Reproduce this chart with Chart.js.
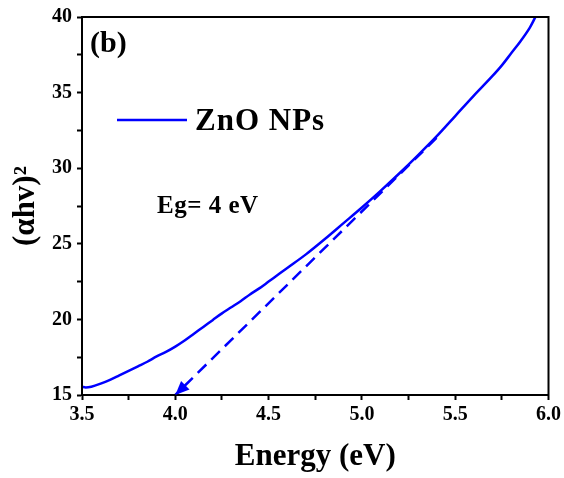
<!DOCTYPE html>
<html>
<head>
<meta charset="utf-8">
<script src="https://cdn.jsdelivr.net/npm/chart.js@4/dist/chart.umd.min.js"></script>
<style>
  html, body { margin: 0; padding: 0; background: #fff; }
  #wrap { width: 564px; height: 478px; }
</style>
</head>
<body>
<div id="wrap"><canvas id="tauc-canvas"></canvas></div>
<script>
// photon energy (eV) and (alpha h nu)^2
const energy = [3.50, 3.52, 3.55, 3.60, 3.65, 3.70, 3.75, 3.80, 3.85, 3.90, 3.95, 4.00,
  4.05, 4.10, 4.15, 4.20, 4.25, 4.30, 4.35, 4.40, 4.45, 4.50, 4.55, 4.60, 4.70, 4.80, 4.90,
  5.00, 5.10, 5.20, 5.30, 5.40, 5.50, 5.60, 5.70, 5.75, 5.80, 5.85, 5.90, 5.93]
const alphaHv2 = [15.55, 15.5, 15.55, 15.75, 16.0, 16.3, 16.6, 16.9, 17.2, 17.55, 17.85, 18.2,
  18.6, 19.05, 19.5, 19.95, 20.4, 20.8, 21.2, 21.65, 22.05, 22.5, 22.95, 23.4, 24.3, 25.3, 26.35,
  27.4, 28.5, 29.65, 30.85, 32.1, 33.45, 34.8, 36.1, 36.8, 37.6, 38.4, 39.3, 40.0]

// linear extrapolation to the energy axis
const tangentX = [5.40, 4.0]
const tangentY = [32.0, 15]

const xTicks = [3.5, 4.0, 4.5, 5.0, 5.5, 6.0]
const yTicks = [15, 20, 25, 30, 35, 40]

const FONT = "'Liberation Serif', 'Times New Roman', serif"
const BLUE = "#0000ff"

const isMajor = (v, list) => list.some((t) => Math.abs(t - v) < 1e-6)

const framePlugin = {
  id: "frame",
  afterDatasetsDraw(chart) {
    const { ctx, chartArea: a } = chart
    const xs = chart.scales.x
    const ys = chart.scales.y
    ctx.save()
    // box
    ctx.strokeStyle = "#000"
    ctx.lineWidth = 2
    ctx.strokeRect(a.left, a.top, a.right - a.left, a.bottom - a.top)

    // arrow head at the end of the tangent
    const n = tangentX.length
    const tipX = xs.getPixelForValue(tangentX[n - 1])
    const tipY = ys.getPixelForValue(tangentY[n - 1])
    const fromX = xs.getPixelForValue(tangentX[n - 2])
    const fromY = ys.getPixelForValue(tangentY[n - 2])
    const ang = Math.atan2(tipY - fromY, tipX - fromX)
    const len = 14, half = 6
    ctx.fillStyle = BLUE
    ctx.beginPath()
    ctx.moveTo(tipX, tipY)
    ctx.lineTo(tipX - len * Math.cos(ang) + half * Math.sin(ang), tipY - len * Math.sin(ang) - half * Math.cos(ang))
    ctx.lineTo(tipX - len * Math.cos(ang) - half * Math.sin(ang), tipY - len * Math.sin(ang) + half * Math.cos(ang))
    ctx.closePath()
    ctx.fill()

    // labels and legend
    ctx.fillStyle = "#000"
    ctx.textBaseline = "middle"
    ctx.textAlign = "left"
    ctx.letterSpacing = "0px"
    ctx.font = "bold 30px " + FONT
    ctx.fillText("(b)", a.left + 8, a.top + 27)

    ctx.strokeStyle = BLUE
    ctx.lineWidth = 2.5
    ctx.beginPath()
    ctx.moveTo(a.left + 35, a.top + 103)
    ctx.lineTo(a.left + 105, a.top + 103)
    ctx.stroke()
    ctx.letterSpacing = "1px"
    ctx.font = "bold 31px " + FONT
    ctx.fillText("ZnO NPs", a.left + 113, a.top + 105)

    ctx.letterSpacing = "0.5px"
    ctx.font = "bold 25px " + FONT
    ctx.fillText("Eg= 4 eV", a.left + 75, a.top + 190)
    ctx.restore()
  },
}

new Chart(document.getElementById("tauc-canvas"), {
  type: "line",
  data: {
    datasets: [
      {
        label: "ZnO NPs",
        data: energy.map((e, i) => ({ x: e, y: alphaHv2[i] })),
        borderColor: BLUE,
        borderWidth: 2.5,
        pointRadius: 0,
        cubicInterpolationMode: "monotone",
      },
      {
        label: "tangent",
        data: tangentX.map((e, i) => ({ x: e, y: tangentY[i] })),
        borderColor: BLUE,
        borderWidth: 2.5,
        borderDash: [12, 7],
        pointRadius: 0,
        tension: 0,
      },
    ],
  },
  options: {
    responsive: true,
    maintainAspectRatio: false,
    animation: false,
    events: [],
    layout: { padding: { top: 17, right: 15, left: 0, bottom: 0 } },
    plugins: {
      legend: { display: false },
      tooltip: { enabled: false },
    },
    scales: {
      x: {
        type: "linear",
        min: 3.5,
        max: 6.0,
        afterBuildTicks: (s) => {
          s.ticks = []
          for (let v = 3.5; v <= 6.0001; v += 0.25) s.ticks.push({ value: Math.round(v * 100) / 100 })
        },
        ticks: {
          autoSkip: false,
          maxRotation: 0,
          padding: 3,
          color: "#000",
          font: { family: FONT, size: 20, weight: "bold" },
          callback: (v) => (isMajor(v, xTicks) ? v.toFixed(1) : ""),
        },
        grid: {
          drawOnChartArea: false,
          tickLength: 5,
          tickWidth: 2,
          tickColor: "#000",
        },
        border: { display: true, color: "#000", width: 2 },
        title: {
          display: true,
          text: "Energy (eV)",
          color: "#000",
          font: { family: FONT, size: 31, weight: "bold" },
          padding: { top: 0, bottom: 2 },
        },
        afterFit: (s) => { s.height = 83 },
      },
      y: {
        type: "linear",
        min: 15,
        max: 40,
        afterBuildTicks: (s) => {
          s.ticks = []
          for (let v = 15; v <= 40.001; v += 2.5) s.ticks.push({ value: v })
        },
        ticks: {
          autoSkip: false,
          padding: 5,
          color: "#000",
          font: { family: FONT, size: 20, weight: "bold" },
          callback: (v) => (isMajor(v, yTicks) ? String(v) : ""),
        },
        grid: {
          drawOnChartArea: false,
          tickLength: 5,
          tickWidth: 2,
          tickColor: "#000",
        },
        border: { display: true, color: "#000", width: 2 },
        title: {
          display: true,
          text: "(αhv)²",
          color: "#000",
          font: { family: FONT, size: 31, weight: "bold" },
          padding: { top: 7, bottom: 0 },
        },
        afterFit: (s) => { s.width = 82 },
      },
    },
  },
  plugins: [framePlugin],
})
</script>
</body>
</html>
